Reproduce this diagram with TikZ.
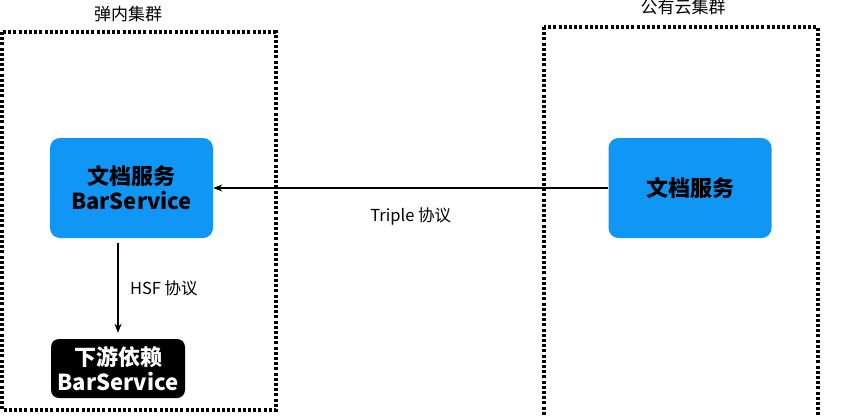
\documentclass[tikz,border=0pt]{standalone}
\usepackage{fontspec}
\setmainfont{Noto Sans CJK SC}
\usetikzlibrary{arrows.meta, positioning}
\definecolor{cBlue}{RGB}{16,150,245}
\tikzset{
	cluster/.style={draw=black, line width=3.4pt, dash pattern=on 3pt off 2.2pt},
	title/.style  ={font=\fontsize{17}{20}\selectfont},
	svc/.style    ={rectangle, rounded corners=10pt, fill=cBlue, minimum width=163pt, minimum height=100pt, align=center, font=\bfseries\fontsize{22}{25}\selectfont},
	dep/.style    ={rectangle, rounded corners=8pt, fill=black, text=white, minimum width=134pt, minimum height=59pt, align=center, font=\bfseries\fontsize{22}{25}\selectfont},
	call/.style   ={-{Stealth[length=9pt, width=7pt]}, line width=1.4pt},
	lbl/.style    ={font=\fontsize{16.5}{19}\selectfont},
}
\begin{document}
\begin{tikzpicture}[x=1pt, y=-1pt]
	\useasboundingbox (0,0) rectangle (865,416);
	\clip (0,0) rectangle (865,416);
	% clusters
	\draw[cluster] (2,32) rectangle (276,410);
	\node[title] (inner) at (128,14) {弹内集群};
	\draw[cluster] (544,27) rectangle (818,430);
	\node[title] (cloudname) at (683,7) {公有云集群};
	% services
	\node[svc] (doc) at (131.5,188) {文档服务\\BarService};
	\node[svc] (cloud) at (690,188) {文档服务};
	\node[dep] (down) at (118,368.5) {下游依赖\\BarService};
	% calls
	\draw[call] (cloud.west) -- (doc.east) node[midway, below=16pt, lbl] {Triple 协议};
	\draw[call, shorten <=5pt, shorten >=6pt] (down.north |- doc.south) -- (down.north) node[midway, right=8pt, lbl] {HSF 协议};
\end{tikzpicture}
\end{document}
